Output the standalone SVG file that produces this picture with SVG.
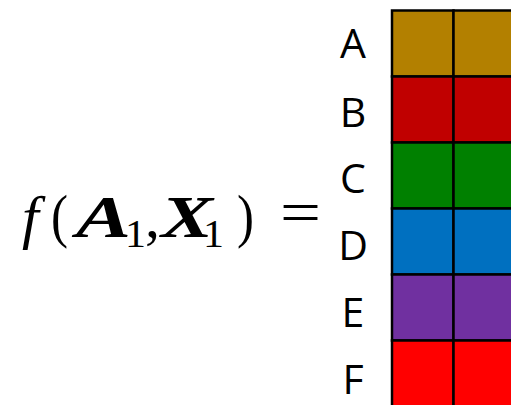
<svg xmlns="http://www.w3.org/2000/svg" width="511" height="405" viewBox="0 0 511 405">
<style>
.lbl{font-family:"Open Sans","Noto Sans","DejaVu Sans",sans-serif;font-size:41px;fill:#000;text-anchor:middle}
.cell{stroke:#000;stroke-width:2.5}
.m{font-family:"Liberation Serif","DejaVu Serif",serif;font-size:60px;fill:#000}
.mi{font-style:italic}
.mb{font-style:italic;font-weight:bold}
.sub{font-size:41px}
</style>
<rect width="511" height="405" fill="#fff"/>
<g id="formula">
<text class="m mi" x="22" y="237">f</text>
<text class="m" x="51" y="236" textLength="17" lengthAdjust="spacingAndGlyphs">(</text>
<text class="m mb" x="76" y="237" textLength="55" lengthAdjust="spacingAndGlyphs">A</text>
<text class="m sub" x="125" y="247" textLength="21" lengthAdjust="spacingAndGlyphs">1</text>
<text class="m" x="145" y="237">,</text>
<text class="m mb" x="161" y="237" textLength="52" lengthAdjust="spacingAndGlyphs">X</text>
<text class="m sub" x="203" y="247" textLength="21" lengthAdjust="spacingAndGlyphs">1</text>
<text class="m" x="237" y="236" textLength="17" lengthAdjust="spacingAndGlyphs">)</text>
<text class="m" x="280" y="232" textLength="41" lengthAdjust="spacingAndGlyphs">=</text>
</g>
<g id="rowA">
<text class="lbl" x="353" y="57.5">A</text>
<rect class="cell" x="392" y="10.5" width="61.5" height="66" fill="#B38000"/>
<rect class="cell" x="453.5" y="10.5" width="61.5" height="66" fill="#B38000"/>
</g>
<g id="rowB">
<text class="lbl" x="353" y="126.5">B</text>
<rect class="cell" x="392" y="76.5" width="61.5" height="66" fill="#C00000"/>
<rect class="cell" x="453.5" y="76.5" width="61.5" height="66" fill="#C00000"/>
</g>
<g id="rowC">
<text class="lbl" x="353" y="193">C</text>
<rect class="cell" x="392" y="142.5" width="61.5" height="66" fill="#008000"/>
<rect class="cell" x="453.5" y="142.5" width="61.5" height="66" fill="#008000"/>
</g>
<g id="rowD">
<text class="lbl" x="353" y="259.5">D</text>
<rect class="cell" x="392" y="208.5" width="61.5" height="66" fill="#0070C0"/>
<rect class="cell" x="453.5" y="208.5" width="61.5" height="66" fill="#0070C0"/>
</g>
<g id="rowE">
<text class="lbl" x="353" y="326.5">E</text>
<rect class="cell" x="392" y="274.5" width="61.5" height="66" fill="#7030A0"/>
<rect class="cell" x="453.5" y="274.5" width="61.5" height="66" fill="#7030A0"/>
</g>
<g id="rowF">
<text class="lbl" x="353" y="394">F</text>
<rect class="cell" x="392" y="340.5" width="61.5" height="66" fill="#FF0000"/>
<rect class="cell" x="453.5" y="340.5" width="61.5" height="66" fill="#FF0000"/>
</g>
<g id="connectors"/>
</svg>
